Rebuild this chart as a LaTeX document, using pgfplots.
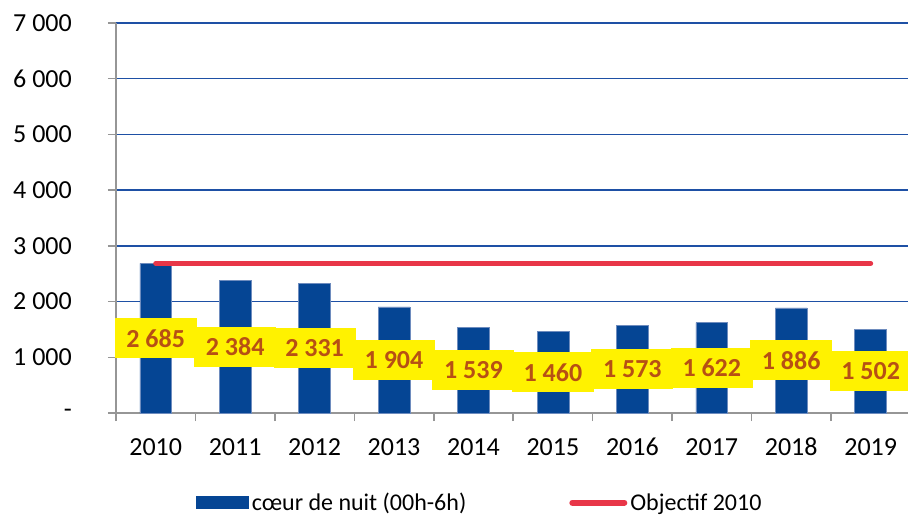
\documentclass[border=0pt]{standalone}
\usepackage{fontspec}
\setmainfont{Carlito}
\usepackage{pgfplots}
\pgfplotsset{compat=1.18}
\definecolor{barblue}{RGB}{5,69,148}
\definecolor{baredge}{RGB}{110,140,190}
\definecolor{gridblue}{RGB}{30,80,165}
\definecolor{objred}{RGB}{232,54,72}
\definecolor{labcol}{RGB}{183,80,20}
\definecolor{axgray}{RGB}{150,150,150}
\begin{document}
\begin{tikzpicture}
\useasboundingbox (0,0) rectangle (908pt,515pt);
\begin{axis}[
  at={(116pt,102pt)}, anchor=south west,
  scale only axis, width=792pt, height=390pt,
  xmin=-0.5, xmax=9.47, ymin=0, ymax=7000,
  axis x line*=bottom, axis y line*=left,
  axis line style={draw=axgray, line width=1.5pt, -},
  xtick={0,...,9},
  xticklabels={2010,2011,2012,2013,2014,2015,2016,2017,2018,2019},
  minor xtick={-0.5,0.5,...,9.5},
  major x tick style={draw=none},
  minor x tick style={draw=axgray, line width=1.5pt},
  minor tick length=8pt,
  ytick={0,1000,...,7000},
  yticklabels={{-\hspace{17pt}},{1 000},{2 000},{3 000},{4 000},{5 000},{6 000},{7 000}},
  major tick length=8pt,
  tick align=outside,
  y tick style={draw=axgray, line width=1.5pt},
  ymajorgrids,
  grid style={draw=gridblue, line width=1.5pt},
  tick label style={font=\fontsize{26}{30}\selectfont, text=black, inner sep=0pt},
  xticklabel style={anchor=base, yshift=-34pt},
  yticklabel style={anchor=east, xshift=-36pt},
  legend columns=2,
  legend style={at={(0.46,-0.23)}, anchor=center, draw=none, fill=none,
    font=\fontsize{24}{28}\selectfont, inner sep=0pt,
    /tikz/every even column/.append style={column sep=100pt},
    nodes={inner xsep=3pt, inner ysep=0pt}},
  legend cell align=left,
]
\addplot[ybar, bar width=0.4, fill=barblue, draw=baredge, line width=0.6pt,
  legend image code/.code={\fill[barblue] (0pt,-6pt) rectangle (52pt,6pt);}]
  coordinates {(0,2685) (1,2384) (2,2331) (3,1904) (4,1539) (5,1460) (6,1573) (7,1622) (8,1886) (9,1502)};
\addlegendentry{cœur de nuit (00h-6h)}
\addplot[draw=objred, line width=5pt, line cap=round,
  legend image code/.code={\draw[objred, line width=6pt, line cap=round] (0pt,0pt) -- (52pt,0pt);}]
  coordinates {(0,2685) (9,2685)};
\addlegendentry{Objectif 2010}
\addplot[draw=none, mark=none, forget plot, point meta=explicit symbolic,
  nodes near coords,
  nodes near coords style={anchor=center, fill=yellow, text=labcol,
    font=\fontsize{26}{30}\selectfont\bfseries, minimum width=82pt, minimum height=40pt, inner sep=0pt}]
  coordinates {(0,1342.5) [2 685] (1,1192) [2 384] (2,1165.5) [2 331] (3,952) [1 904] (4,769.5) [1 539]
    (5,730) [1 460] (6,786.5) [1 573] (7,811) [1 622] (8,943) [1 886] (9,751) [1 502]};
\end{axis}
\end{tikzpicture}
\end{document}
